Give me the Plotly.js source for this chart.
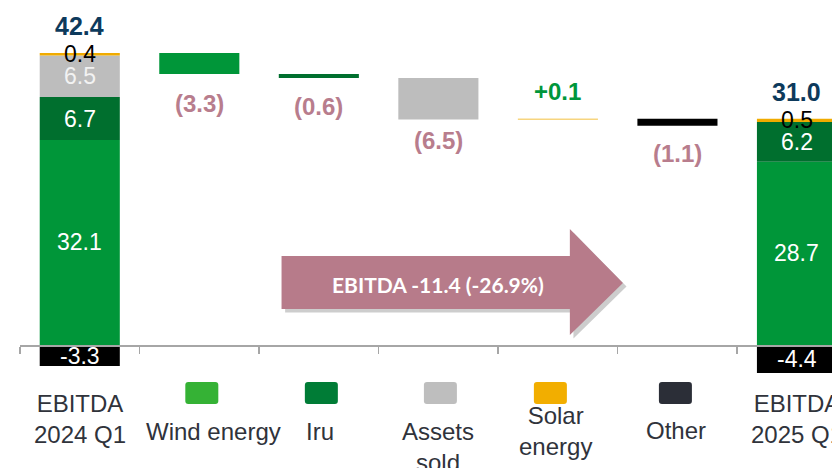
<!DOCTYPE html>
<html>
<head>
<meta charset="utf-8">
<script src="https://cdn.plot.ly/plotly-3.0.1.min.js"></script>
<style>
  html, body { margin: 0; padding: 0; background: #fff; }
  #chart { width: 832px; height: 468px; }
</style>
</head>
<body>
<div id="chart"></div>
<script>
// chart data
var categories = ['EBITDA<br>2024 Q1', 'Wind energy', 'Iru', 'Assets<br>sold', 'Solar<br>energy', 'Other', 'EBITDA<br>2025 Q1'];
var seriesNames = ['Wind energy', 'Iru', 'Assets sold', 'Solar energy', 'Other'];
var start2024 = [32.1, 6.7, 6.5, 0.4, -3.3];
var end2025 = [28.7, 6.2, 0, 0.5, -4.4];
var changes = [-3.3, -0.6, -6.5, 0.1, -1.1];
var totals = [42.4, 31.0];
var arrowText = 'EBITDA -11.4 (-26.9%)';

// styles
var barColors = ['#009639', '#006f2e', '#bdbdbd', '#f0ab00', '#000000'];
var swatchColors = ['#35b235', '#007c36', '#bebebe', '#f2ae00', '#2b2e37'];
var segLabelColors = ['#ffffff', '#ffffff', '#f2f2f2', '#000000', '#ffffff'];
var changeShift = [-29, -29, -21, 27, -28];
var swatchX = [1.021, 2.021, 3.017, 3.937, 4.983];
var font = 'Liberation Sans, Arial, sans-serif';

// stacking for the two total columns (positives up, negatives down from zero)
function stackBases(vals) {
  var pos = 0, neg = 0;
  return vals.map(function (v) {
    var b;
    if (v >= 0) { b = pos; pos += v; } else { b = neg; neg += v; }
    return b;
  });
}
function posSum(vals) {
  return vals.reduce(function (a, v) { return v > 0 ? a + v : a; }, 0);
}
var startBase = stackBases(start2024);
var endBase = stackBases(end2025);

// waterfall chain starts from the top of the first column
var level = posSum(start2024);
var chainBase = changes.map(function (c) { var b = level; level += c; return b; });

var traces = seriesNames.map(function (name, i) {
  return {
    type: 'bar',
    name: name,
    x: [0, i + 1, 6],
    y: [start2024[i], changes[i], end2025[i]],
    base: [startBase[i], chainBase[i], endBase[i]],
    width: 0.67,
    marker: { color: barColors[i], line: { width: 0 } },
    hoverinfo: 'skip'
  };
});

var annotations = [];
// labels inside the total columns
[[0, start2024, startBase], [6, end2025, endBase]].forEach(function (col) {
  col[1].forEach(function (v, i) {
    if (v === 0) return;
    annotations.push({
      x: col[0], y: col[2][i] + v / 2, xref: 'x', yref: 'y',
      text: v.toFixed(1), showarrow: false, yanchor: 'middle',
      font: { family: font, size: 23, color: segLabelColors[i] }
    });
  });
});
// total values above the columns
[[0, start2024], [6, end2025]].forEach(function (col, k) {
  annotations.push({
    x: col[0], y: posSum(col[1]), xref: 'x', yref: 'y',
    text: '<b>' + totals[k].toFixed(1) + '</b>', showarrow: false,
    yanchor: 'middle', yshift: 27,
    font: { family: font, size: 25, color: '#0d3a5c' }
  });
});
// change labels
changes.forEach(function (c, i) {
  var txt = c < 0 ? '(' + Math.abs(c).toFixed(1) + ')' : '+' + c.toFixed(1);
  annotations.push({
    x: i + 1, y: chainBase[i] + c, xref: 'x', yref: 'y',
    text: '<b>' + txt + '</b>', showarrow: false,
    yanchor: 'middle', yshift: changeShift[i],
    font: { family: font, size: 24, color: c < 0 ? '#b87d8d' : '#00963b' }
  });
});
// category / legend labels under the axis
var labelPos = [[0, 419], [1.12, 431], [2.01, 431], [3.0, 447], [3.98, 431], [4.99, 430], [6.0, 419]];
categories.forEach(function (c, i) {
  annotations.push({
    x: labelPos[i][0], y: 1 - labelPos[i][1] / 468, xref: 'x', yref: 'paper',
    text: c, showarrow: false, yanchor: 'middle',
    font: { family: font, size: 24, color: '#30333b' }
  });
});
// arrow text
annotations.push({
  x: 3.0, y: 1 - 284 / 468, xref: 'x', yref: 'paper',
  text: '<b>' + arrowText + '</b>', showarrow: false, yanchor: 'middle',
  font: { family: 'Lato, Open Sans, sans-serif', size: 21, color: '#ffffff' }
});

var shapes = [];
// big arrow (with soft shadow)
function arrowPath(dx, dy) {
  var p = [[1.688, 13.93], [4.100, 13.93], [4.100, 18.15], [4.544, 9.70], [4.100, 1.56], [4.100, 5.63], [1.688, 5.63]];
  return 'M' + p.map(function (q) { return (q[0] + dx) + ',' + (q[1] + dy); }).join(' L') + ' Z';
}
shapes.push({ type: 'path', xref: 'x', yref: 'y', path: arrowPath(0.03, -0.55), fillcolor: 'rgba(90,90,90,0.3)', line: { width: 0 }, layer: 'below' });
shapes.push({ type: 'path', xref: 'x', yref: 'y', path: arrowPath(0, 0), fillcolor: '#b77b8a', line: { width: 0 }, layer: 'below' });

// legend swatches (rounded boxes)
function roundBox(cx, py0, py1) {
  var hw = 16.5 / 119.53, rx = 3 / 119.53, ry = 3 / 468;
  var x0 = cx - hw, x1 = cx + hw, y0 = 1 - py1 / 468, y1 = 1 - py0 / 468;
  return 'M' + (x0 + rx) + ',' + y0 + ' L' + (x1 - rx) + ',' + y0 +
    ' Q' + x1 + ',' + y0 + ' ' + x1 + ',' + (y0 + ry) +
    ' L' + x1 + ',' + (y1 - ry) + ' Q' + x1 + ',' + y1 + ' ' + (x1 - rx) + ',' + y1 +
    ' L' + (x0 + rx) + ',' + y1 + ' Q' + x0 + ',' + y1 + ' ' + x0 + ',' + (y1 - ry) +
    ' L' + x0 + ',' + (y0 + ry) + ' Q' + x0 + ',' + y0 + ' ' + (x0 + rx) + ',' + y0 + ' Z';
}
swatchX.forEach(function (sx, i) {
  shapes.push({
    type: 'path', xref: 'x', yref: 'paper', path: roundBox(sx, 382, 404),
    fillcolor: swatchColors[i], line: { width: 0 }
  });
});

var yRange = [-19.25, 54.0];
var layout = {
  width: 832, height: 468,
  margin: { l: 20, r: 0, t: 0, b: 0 },
  paper_bgcolor: '#ffffff', plot_bgcolor: '#ffffff',
  barmode: 'overlay',
  showlegend: false,
  font: { family: font },
  xaxis: {
    range: [-0.5, 6.293],
    anchor: 'free',
    position: (0 - yRange[0]) / (yRange[1] - yRange[0]),
    showgrid: false, zeroline: false,
    showline: true, linecolor: '#a6a6a6', linewidth: 1.5,
    tickmode: 'array', tickvals: [-0.5, 0.5, 1.5, 2.5, 3.5, 4.5, 5.5],
    ticks: 'outside', ticklen: 7, tickcolor: '#a6a6a6', tickwidth: 1.5,
    showticklabels: false, fixedrange: true
  },
  yaxis: {
    range: yRange, visible: false, showgrid: false, zeroline: false, fixedrange: true
  },
  annotations: annotations,
  shapes: shapes
};

Plotly.newPlot('chart', traces, layout, { displayModeBar: false, staticPlot: true });
</script>
</body>
</html>
